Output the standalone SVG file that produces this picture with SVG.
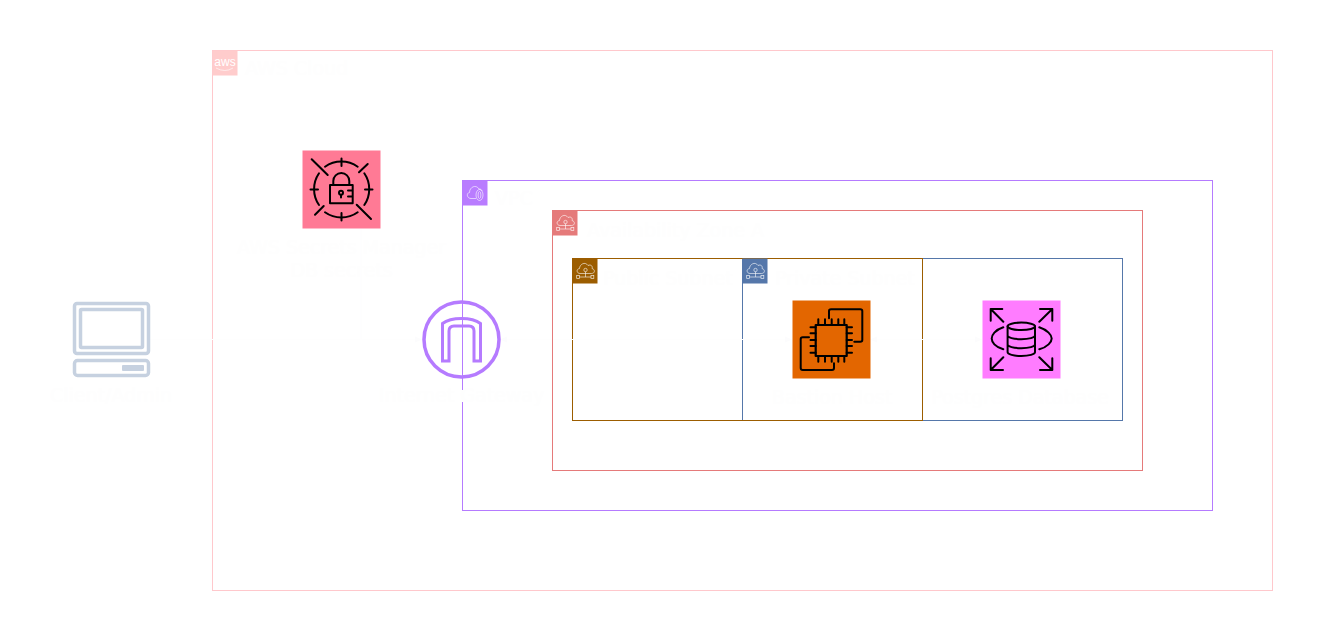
<svg xmlns="http://www.w3.org/2000/svg" xmlns:xlink="http://www.w3.org/1999/xlink" width="1323" height="641" viewBox="0 0 1323 641">
<style>
text{font-family:"DejaVu Sans","Liberation Sans",sans-serif;font-size:19px;fill:#fefefe}
.m{text-anchor:middle}
.box{fill:none;stroke-width:1}
.k{fill:none;stroke:#000;stroke-width:2;stroke-linecap:round;stroke-linejoin:round}
.w{fill:none;stroke:#fff;stroke-width:.7;stroke-opacity:.85}
.c{fill:none;stroke:#fefefe;stroke-width:1}
.cv{fill:none;stroke:#fdfdfe;stroke-width:1}
</style>
<defs>
<marker id="ah" markerWidth="8" markerHeight="8" refX="7" refY="4" orient="auto-start-reverse" markerUnits="userSpaceOnUse"><path d="M0 1L7 4L0 7z" fill="#fcfcfd"/></marker>
<g id="subnetIcon" class="w">
<path d="M7 14.5C3.5 14.5 3 10 6.5 9.5C6.5 5.5 12 2 15 6.5C18 5 20 7.5 19 9.5C22.5 10.5 22 14.5 18.5 14.5Z"/>
<circle cx="12.5" cy="11" r="1.7"/><path d="M12.5 12.7V18M6.5 18H18"/>
<rect x="3.7" y="16.4" width="2.8" height="3.2"/><rect x="18" y="16.4" width="2.8" height="3.2"/>
</g>
</defs>
<g id="aws-cloud">
<rect class="box" x="212.5" y="50.5" width="1060" height="540" stroke="#ffc8cc"/>
<rect x="212.500" y="50.500" width="25" height="25" fill="#ffcccc"/>
<text x="225" y="65.500" class="m" style="font-family:'Liberation Sans',sans-serif;font-size:12px;fill:#fff">aws</text>
<path d="M216 68Q225 73 233 68" class="w"/>
<text x="245" y="75">AWS Cloud</text>
</g>
<g id="vpc">
<rect class="box" x="462.5" y="180.5" width="750" height="330" stroke="#b57bff"/>
<rect x="462.500" y="180.500" width="25" height="25" fill="#b97cff"/>
<path class="w" d="M471 198.5C467 198.500 466 193 469.500 192.500C469.500 187 476 184 479 189C481 189 482 190 482 191M476 198.500H471"/>
<ellipse class="w" cx="479.500" cy="195" rx="3.500" ry="5.500"/><ellipse class="w" cx="479.500" cy="195" rx="1.400" ry="3.500"/>
<text x="495" y="205">VPC</text>
</g>
<g id="private-subnet">
<rect class="box" x="742.5" y="258.500" width="380" height="162" stroke="#5577aa"/>
</g>
<g id="public-subnet">
<rect class="box" x="572.5" y="258.500" width="350" height="162" stroke="#9c5d00"/>
<rect x="572.500" y="258.500" width="25" height="25" fill="#9c5d00"/>
<use xlink:href="#subnetIcon" href="#subnetIcon" x="573" y="259"/>
<text x="603" y="285">Public Subnet</text>
</g>
<g id="connectors">
<path class="c" d="M150 339.500H422" marker-end="url(#ah)"/>
<path class="c" d="M500 339.500H792" marker-start="url(#ah)" marker-end="url(#ah)"/>
<path class="c" d="M870 339.500H982" marker-start="url(#ah)" marker-end="url(#ah)"/>
<path class="cv" d="M361 229V339"/>
</g>
<g id="private-subnet-label">
<rect x="742.500" y="258.500" width="25" height="25" fill="#5577aa"/>
<use xlink:href="#subnetIcon" href="#subnetIcon" x="743" y="259"/>
<text x="775" y="285">Private Subnet</text>
</g>
<g id="availability-zone">
<rect class="box" x="552.5" y="210.500" width="590" height="260" stroke="#e57a7a"/>
<rect x="552.500" y="210.500" width="25" height="25" fill="#e57a7a"/>
<use xlink:href="#subnetIcon" href="#subnetIcon" x="553" y="211"/>
<text x="587" y="237">Availability Zone A</text>
</g>
<g id="secrets-manager">
<rect x="302.500" y="150.500" width="78" height="78" fill="#ff7a95"/>
<g class="k">
<path d="M325 166.700A28 28 0 0 1 357.700 166.700M364.300 173.300A28 28 0 0 1 364.300 205M357.700 212.300A28 28 0 0 1 325 212.300M319 205A28 28 0 0 1 319 173.300"/>
<path d="M341.500 158.500V166M365 189.500H372.500M341.500 213V220.500M310.500 189.500H318"/>
<path d="M311.700 159.300L327.700 175M367.700 164L359 172.300M315 214.700L323.700 206M371 219L356.700 204.700"/>
<path d="M330 185H352.700V203.300H330ZM333.300 185V181A8 8 0 0 1 349.300 181V185M348 190.500H352.700M348 196.500H352.700M341 195V197.500"/>
<circle cx="341" cy="192.700" r="2"/>
</g>
<text x="341.500" y="254" class="m">AWS Secrets Manager</text>
<text x="341.500" y="277" class="m">DB secrets</text>
</g>
<g id="client">
<g fill="none" stroke="#c6d1e0" stroke-width="3.500" stroke-linejoin="round">
<rect x="74.500" y="303.500" width="74" height="50" rx="2.500"/>
<rect x="80.500" y="309.500" width="62" height="38" rx="1"/>
<rect x="74.500" y="360.500" width="74" height="15" rx="3"/>
</g>
<rect x="122" y="365" width="22" height="6" rx="1" fill="#c6d1e0"/>
<text x="111" y="402" class="m">Client/Admin</text>
</g>
<g id="internet-gateway">
<circle cx="461.500" cy="339.500" r="37.500" fill="none" stroke="#b57bff" stroke-width="3.500"/>
<path d="M442.500 361V323.500Q449 318.500 461.500 318.500Q474 318.500 480.500 323.500V361H474V331Q474 326 469 326H454Q449 326 449 331V361Z" fill="none" stroke="#b57bff" stroke-width="3"/>
<rect x="461" y="390" width="3" height="12" fill="#fff"/>
<text x="461.500" y="402" class="m">Internet Gateway</text>
</g>
<g id="bastion-host">
<rect x="792.500" y="300.500" width="78" height="78" fill="#e36600"/>
<g class="k">
<rect x="815.700" y="325" width="31" height="31" stroke-width="2.200"/>
<path d="M818.300 319.300V325M825 319.300V325M831.700 319.300V325M838.300 319.300V325M844.300 319.300V325M818.300 356V361.700M825 356V361.700M831.700 356V361.700M838.300 356V361.700M844.300 356V361.700M810.500 327.300H815.700M810.500 333.300H815.700M810.500 340H815.700M810.500 346H815.700M810.500 352.700H815.700M846.700 327.300H852M846.700 333.300H852M846.700 340H852M846.700 346H852M846.700 352.700H852"/>
<path d="M829 318.300V311Q829 309.300 831 309.300H860.300Q862.300 309.300 862.300 311V340Q862.300 341.700 860.300 341.700H854.300M809 337.300H802.700Q800.700 337.300 800.700 339V368Q800.700 370 802.700 370H832Q834 370 834 368V363.300"/>
</g>
<text x="832" y="404" class="m">Bastion Host</text>
</g>
<g id="postgres-database">
<rect x="982.500" y="300.500" width="78" height="78" fill="#ff7cff"/>
<g class="k">
<ellipse cx="1021.300" cy="326.300" rx="13.700" ry="3.700"/>
<path d="M1007.600 326.300V352.300C1007.600 354.300 1013.600 356 1021.300 356S1035 354.300 1035 352.300V326.300M1007.600 335.500C1007.600 337.500 1013.600 339.200 1021.300 339.200S1035 337.500 1035 335.500M1007.600 344.500C1007.600 346.500 1013.600 348.200 1021.300 348.200S1035 346.500 1035 344.500"/>
<path d="M1003.300 327.300C995 330 991.700 335 991.700 338.500S995 347 1003.300 349.300M1039.300 327.300C1047.500 330 1051.700 335 1051.700 338.500S1047.500 347 1039.300 349.300"/>
<path d="M1003.300 321.700L990.700 309M990.700 320.700V309H1002.300M1039.300 321.700L1052.300 309M1040 309H1052.300V320.700M1003.300 357.300L990.700 370M990.700 358.300V370H1003M1039.300 357.300L1052.300 370M1040 370H1052.300V358.300"/>
</g>
<text x="1020" y="404" class="m">Postgres Database</text>
</g>
</svg>
